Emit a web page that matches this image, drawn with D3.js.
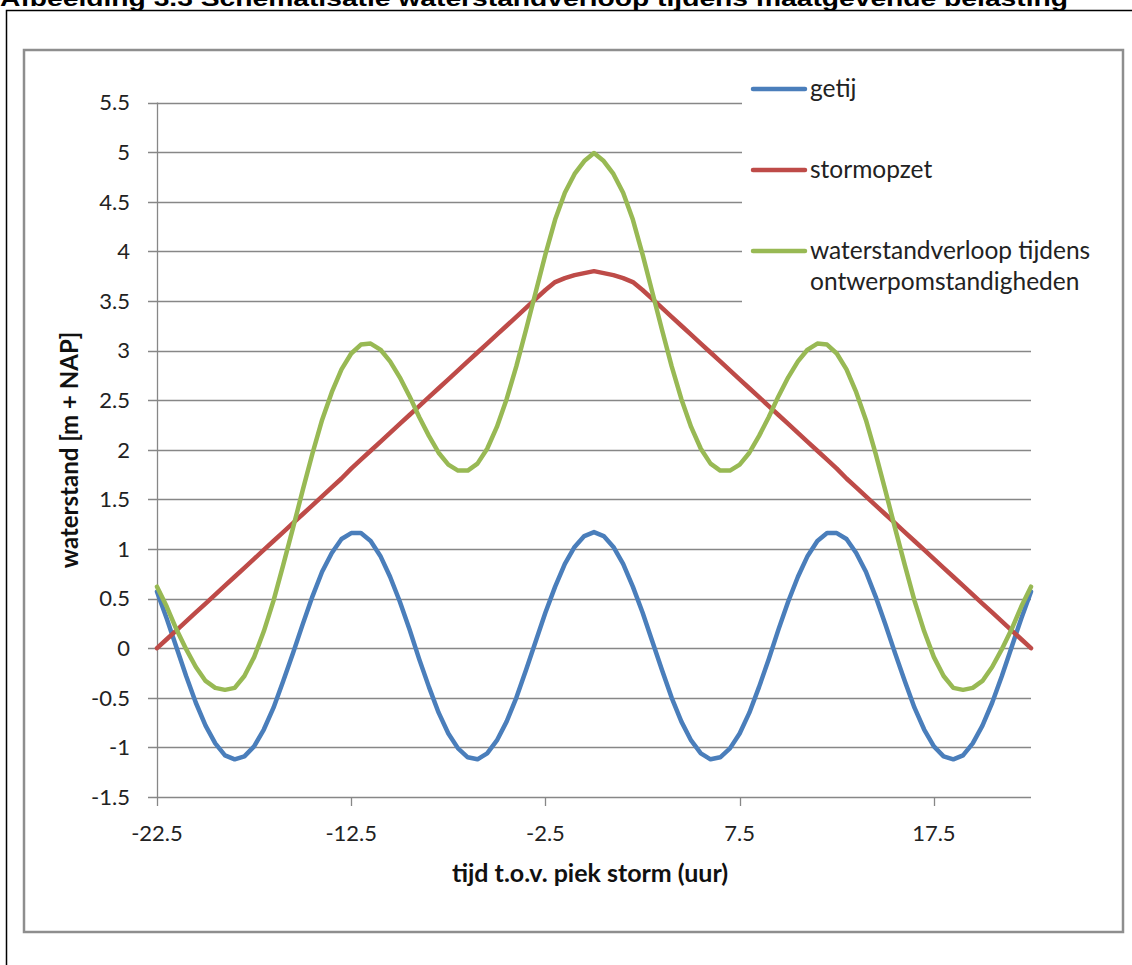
<!DOCTYPE html>
<html>
<head>
<meta charset="utf-8">
<script src="https://cdn.jsdelivr.net/npm/d3@7"></script>
<style>
  html, body { margin: 0; padding: 0; background: #fff; }
  svg { display: block; }
</style>
</head>
<body>
<div id="chart"></div>
<script>
// Data: water level schematisation, half-hour steps around storm peak
const hours = [-22.5,-22,-21.5,-21,-20.5,-20,-19.5,-19,-18.5,-18,-17.5,-17,-16.5,-16,-15.5,-15,-14.5,-14,-13.5,-13,
  -12.5,-12,-11.5,-11,-10.5,-10,-9.5,-9,-8.5,-8,-7.5,-7,-6.5,-6,-5.5,-5,-4.5,-4,-3.5,-3,-2.5,-2,-1.5,-1,-0.5,
  0,0.5,1,1.5,2,2.5,3,3.5,4,4.5,5,5.5,6,6.5,7,7.5,8,8.5,9,9.5,10,10.5,11,11.5,12,12.5,13,13.5,14,14.5,15,
  15.5,16,16.5,17,17.5,18,18.5,19,19.5,20,20.5,21,21.5,22,22.5];

const getij = [0.57,0.30,0.01,-0.28,-0.55,-0.78,-0.96,-1.08,-1.12,-1.09,-0.99,-0.82,-0.60,-0.33,-0.05,0.24,0.52,0.77,0.96,1.10,
  1.16,1.16,1.08,0.93,0.72,0.47,0.19,-0.11,-0.39,-0.65,-0.86,-1.01,-1.10,-1.12,-1.06,-0.93,-0.74,-0.50,-0.22,0.07,0.36,0.62,0.85,1.02,1.13,
  1.17,
  1.13,1.02,0.85,0.62,0.36,0.07,-0.22,-0.50,-0.74,-0.93,-1.06,-1.12,-1.10,-1.01,-0.86,-0.65,-0.39,-0.11,0.19,0.47,0.72,0.93,1.08,1.16,
  1.16,1.10,0.96,0.77,0.52,0.24,-0.05,-0.33,-0.60,-0.82,-0.99,-1.09,-1.12,-1.08,-0.96,-0.78,-0.55,-0.28,0.01,0.30,0.57];

const stormopzet = [0.00,0.09,0.18,0.27,0.36,0.45,0.54,0.63,0.72,0.81,0.90,0.99,1.08,1.17,1.26,1.35,1.44,1.53,1.62,1.71,
  1.81,1.90,1.99,2.08,2.17,2.26,2.35,2.44,2.53,2.62,2.71,2.80,2.89,2.98,3.07,3.16,3.25,3.34,3.43,3.52,3.61,3.69,3.73,3.76,3.78,
  3.80,
  3.78,3.76,3.73,3.69,3.61,3.52,3.43,3.34,3.25,3.16,3.07,2.98,2.89,2.80,2.71,2.62,2.53,2.44,2.35,2.26,2.17,2.08,1.99,1.90,
  1.81,1.71,1.62,1.53,1.44,1.35,1.26,1.17,1.08,0.99,0.90,0.81,0.72,0.63,0.54,0.45,0.36,0.27,0.18,0.09,0.00];

const waterstand = [0.62,0.42,0.19,-0.01,-0.19,-0.33,-0.40,-0.42,-0.40,-0.28,-0.09,0.17,0.48,0.84,1.21,1.59,1.96,2.30,2.58,2.81,
  2.97,3.06,3.07,3.01,2.89,2.73,2.54,2.33,2.14,1.97,1.85,1.79,1.79,1.86,2.01,2.23,2.51,2.84,3.21,3.59,3.97,4.32,4.59,4.78,4.91,
  4.99,
  4.91,4.78,4.59,4.32,3.97,3.59,3.21,2.84,2.51,2.23,2.01,1.86,1.79,1.79,1.85,1.97,2.14,2.33,2.54,2.73,2.89,3.01,3.07,3.06,
  2.97,2.81,2.58,2.30,1.96,1.59,1.21,0.84,0.48,0.17,-0.09,-0.28,-0.40,-0.42,-0.40,-0.33,-0.19,-0.01,0.19,0.42,0.62];

const xTicks = [-22.5, -12.5, -2.5, 7.5, 17.5];
const yTicks = [-1.5, -1, -0.5, 0, 0.5, 1, 1.5, 2, 2.5, 3, 3.5, 4, 4.5, 5, 5.5];

const seriesNames = ['getij', 'stormopzet', 'waterstandverloop tijdens ontwerpomstandigheden'];
const seriesColors = ['#4a7ebb', '#be4b48', '#98b954'];
const seriesValues = [getij, stormopzet, waterstand];

const titleText = 'Afbeelding 3.3 Schematisatie waterstandverloop tijdens maatgevende belasting';
const xTitle = 'tijd t.o.v. piek storm (uur)';
const yTitle = 'waterstand [m + NAP]';

// Layout
const W = 1132, H = 965;
const font = 'Lato, "Open Sans", sans-serif';

const svg = d3.select('#chart').append('svg')
  .attr('width', W)
  .attr('height', H);

// Document caption, its upper half falls outside the page as in the scan
svg.append('text')
  .attr('x', 0)
  .attr('y', 6)
  .attr('font-family', 'Liberation Sans, Arial, sans-serif')
  .attr('font-weight', 'bold')
  .attr('font-size', 22)
  .attr('textLength', 1068)
  .attr('lengthAdjust', 'spacingAndGlyphs')
  .text(titleText);

// Outer frame of the figure
svg.append('path')
  .attr('d', `M6.5,${H} V10.5 H${W}`)
  .attr('fill', 'none')
  .attr('stroke', '#000')
  .attr('stroke-width', 1.5);

// Chart area border
svg.append('rect')
  .attr('x', 24).attr('y', 50)
  .attr('width', 1099).attr('height', 882)
  .attr('fill', '#fff')
  .attr('stroke', '#8e8e8e')
  .attr('stroke-width', 2.5);

// Scales
const x = d3.scaleLinear().domain([-22.5, 22.5]).range([157, 1031]);
const y = d3.scaleLinear().domain([-1.5, 5.5]).range([797, 102.5]);

// Gridlines
svg.append('g')
  .selectAll('line')
  .data(yTicks)
  .join('line')
    .attr('x1', 148)
    .attr('x2', x(22.5))
    .attr('y1', d => Math.round(y(d)) + 0.5)
    .attr('y2', d => Math.round(y(d)) + 0.5)
    .attr('stroke', '#878787')
    .attr('stroke-width', 1.3);

// Y axis line
svg.append('line')
  .attr('x1', 157.5).attr('x2', 157.5)
  .attr('y1', y(5.5)).attr('y2', y(-1.5))
  .attr('stroke', '#878787')
  .attr('stroke-width', 1.3);

// X axis ticks
svg.append('g')
  .selectAll('line')
  .data(xTicks)
  .join('line')
    .attr('x1', d => Math.round(x(d)) + 0.5)
    .attr('x2', d => Math.round(x(d)) + 0.5)
    .attr('y1', y(-1.5))
    .attr('y2', y(-1.5) + 9)
    .attr('stroke', '#878787')
    .attr('stroke-width', 1.3);

// Tick labels
svg.append('g')
  .selectAll('text')
  .data(yTicks)
  .join('text')
    .attr('x', 130)
    .attr('y', d => y(d))
    .attr('dy', '0.36em')
    .attr('text-anchor', 'end')
    .attr('font-family', font)
    .attr('font-size', 22)
    .attr('fill', '#222')
    .text(d => d);

svg.append('g')
  .selectAll('text')
  .data(xTicks)
  .join('text')
    .attr('x', d => x(d))
    .attr('y', 833)
    .attr('dy', '0.36em')
    .attr('text-anchor', 'middle')
    .attr('font-family', font)
    .attr('font-size', 22)
    .attr('fill', '#222')
    .text(d => d);

// Axis titles
svg.append('text')
  .attr('x', 590)
  .attr('y', 873)
  .attr('dy', '0.36em')
  .attr('text-anchor', 'middle')
  .attr('font-family', font)
  .attr('font-weight', 'bold')
  .attr('font-size', 25)
  .attr('fill', '#111')
  .text(xTitle);

svg.append('text')
  .attr('transform', 'translate(69,450) rotate(-90)')
  .attr('dy', '0.36em')
  .attr('text-anchor', 'middle')
  .attr('font-family', font)
  .attr('font-weight', 'bold')
  .attr('font-size', 24)
  .attr('fill', '#111')
  .text(yTitle);

// Series lines
const line = d3.line()
  .x((d, i) => x(hours[i]))
  .y(d => y(d));

svg.append('g')
  .selectAll('path')
  .data(seriesValues)
  .join('path')
    .attr('d', line)
    .attr('fill', 'none')
    .attr('stroke', (d, i) => seriesColors[i])
    .attr('stroke-width', 4.5)
    .attr('stroke-linejoin', 'round')
    .attr('stroke-linecap', 'round');

// Legend (white box hides gridlines behind it)
const legend = svg.append('g');
legend.append('rect')
  .attr('x', 742).attr('y', 62)
  .attr('width', 378).attr('height', 256)
  .attr('fill', '#fff');

const legendY = [89, 170, 251];
seriesNames.forEach((name, i) => {
  legend.append('line')
    .attr('x1', 753).attr('x2', 805)
    .attr('y1', legendY[i]).attr('y2', legendY[i])
    .attr('stroke', seriesColors[i])
    .attr('stroke-width', 4.5)
    .attr('stroke-linecap', 'round');

  const words = i === 2 ? ['waterstandverloop tijdens', 'ontwerpomstandigheden'] : [name];
  words.forEach((w, j) => {
    legend.append('text')
      .attr('x', 810)
      .attr('y', legendY[i] + j * 31)
      .attr('dy', '0.32em')
      .attr('font-family', font)
      .attr('font-size', 24.5)
      .attr('fill', '#222')
      .text(w);
  });
});
</script>
</body>
</html>
